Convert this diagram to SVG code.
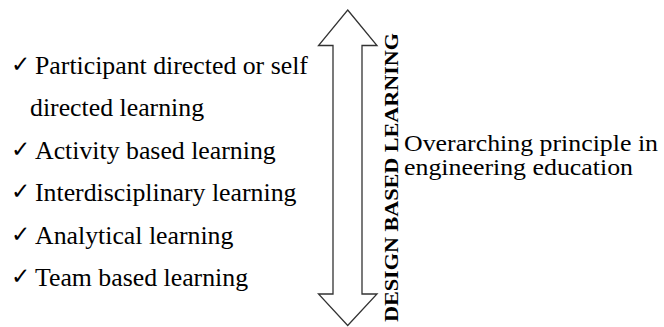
<svg xmlns="http://www.w3.org/2000/svg" width="664" height="327" viewBox="0 0 664 327">
  <style>
    .item { font-family: "Liberation Serif", "DejaVu Serif", serif; font-size: 25.8px; fill: #000; }
    .tick { font-family: "DejaVu Sans", sans-serif; font-size: 23px; font-weight: bold; }
    .note { font-family: "Liberation Serif", "DejaVu Serif", serif; font-size: 24px; fill: #000; }
    .axis { font-family: "Liberation Serif", "DejaVu Serif", serif; font-size: 19px; font-weight: bold; fill: #000; }
    .arrow { fill: #fff; stroke: #333; stroke-width: 1.3; stroke-linejoin: miter; }
  </style>
  <rect width="664" height="327" fill="#fff"/>

  <!-- connector: two-headed arrow -->
  <g id="connectors">
    <polygon class="arrow" points="347.7,10 377,45.5 362,45.5 362,294 377,294 347.7,325.5 318.5,294 333,294 333,45.5 318.5,45.5"/>
  </g>

  <!-- vertical label along the arrow -->
  <g id="axis-label">
    <text class="axis" transform="translate(398,177.5) rotate(-90)" text-anchor="middle" textLength="289" lengthAdjust="spacingAndGlyphs">DESIGN BASED LEARNING</text>
  </g>

  <!-- list of learning types -->
  <g id="learning-list">
    <text class="item" x="11" y="71.5"><tspan class="tick">✓</tspan><tspan x="35" y="73.5">Participant directed or self</tspan></text>
    <text class="item" x="30" y="116">directed learning</text>
    <text class="item" x="11" y="156.5"><tspan class="tick">✓</tspan><tspan x="35" y="158.5">Activity based learning</tspan></text>
    <text class="item" x="11" y="199"><tspan class="tick">✓</tspan><tspan x="35" y="201">Interdisciplinary learning</tspan></text>
    <text class="item" x="11" y="241.5"><tspan class="tick">✓</tspan><tspan x="35" y="243.5">Analytical learning</tspan></text>
    <text class="item" x="11" y="284"><tspan class="tick">✓</tspan><tspan x="35" y="286">Team based learning</tspan></text>
  </g>

  <!-- principle statement -->
  <g id="principle">
    <text class="note" x="404" y="151" textLength="254" lengthAdjust="spacingAndGlyphs">Overarching principle in</text>
    <text class="note" x="404" y="175" textLength="229" lengthAdjust="spacingAndGlyphs">engineering education</text>
  </g>
</svg>
